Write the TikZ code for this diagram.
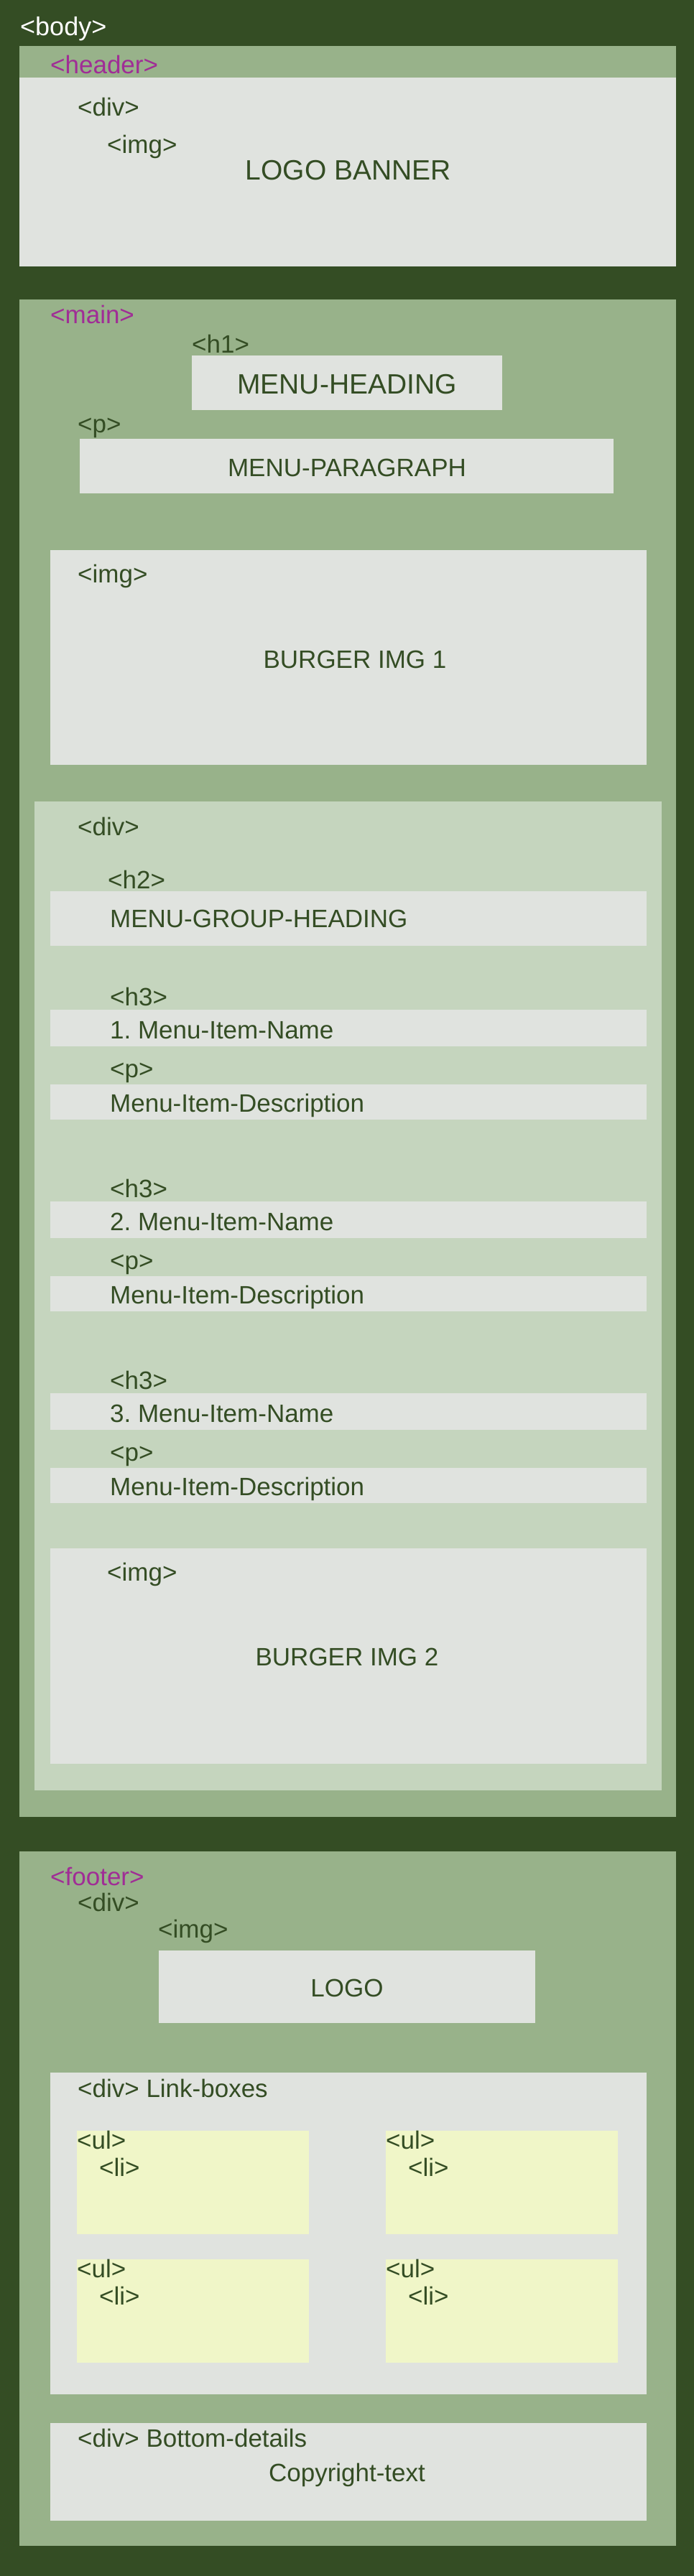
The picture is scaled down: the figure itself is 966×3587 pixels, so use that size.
\documentclass[tikz,border=0pt]{standalone}
\usepackage{fontspec}
\setmainfont{Liberation Sans}
\usepackage{xcolor}
\usepackage{tikz}
\usetikzlibrary{positioning}

\definecolor{bodygreen}{HTML}{344D24}
\definecolor{secgreen}{HTML}{98B28A}
\definecolor{divgreen}{HTML}{C5D5BE}
\definecolor{boxgrey}{HTML}{E0E3DF}
\definecolor{tagpink}{HTML}{A02D96}
\definecolor{ulyellow}{HTML}{F0F6C8}

\begin{document}
\begin{tikzpicture}[
    x=1pt, y=-1pt,
    wh/.style 2 args={minimum width=#1pt, minimum height=#2pt},
    block/.style={anchor=north west, inner sep=0pt, outer sep=0pt},
    section/.style={block, fill=secgreen},
    greybox/.style={block, fill=boxgrey},
    tag/.style={anchor=base west, inner sep=0pt, text=bodygreen, font=\fontsize{35}{42}\selectfont},
    sectag/.style={tag, text=tagpink},
    caption/.style={anchor=base, inner sep=0pt, text=bodygreen, font=\fontsize{35}{42}\selectfont},
    bigcaption/.style={caption, font=\fontsize{39}{46}\selectfont}
]
    % Page
    \fill[bodygreen] (0,0) rectangle (966,3587);
    \node[tag, text=white, font=\fontsize{36}{42}\selectfont] (bodytag) at (28,49) {<body>};

    % Header
    \node[section, wh={914}{307}] (header) at (27,64) {};
    \node[greybox, wh={914}{263}] (headerdiv) at (27,108) {};
    \node[sectag] (headertag) at (70,102) {<header>};
    \node[tag] (headerdivtag) at (108,161) {<div>};
    \node[tag] (headerimgtag) at (149,213) {<img>};
    \node[bigcaption] (banner) at (485,250) {LOGO BANNER};

    % Main
    \node[section, wh={914}{2113}] (main) at (27,417) {};
    \node[sectag] (maintag) at (70,450) {<main>};
    \node[tag] (h1tag) at (267,491) {<h1>};
    \node[greybox, wh={432}{76}] (h1box) at (267,495) {};
    \node[bigcaption] (heading) at (483,548) {MENU-HEADING};
    \node[tag] (mainptag) at (108,602) {<p>};
    \node[greybox, wh={743}{76}] (pbox) at (111,611) {};
    \node[caption] (paragraph) at (483,663) {MENU-PARAGRAPH};
    \node[greybox, wh={830}{299}] (img1) at (70,766) {};
    \node[tag] (img1tag) at (108,811) {<img>};
    \node[caption] (burger1) at (494,930) {BURGER IMG 1};

    % Menu group
    \node[block, fill=divgreen, wh={873}{1377}] (group) at (48,1116) {};
    \node[tag] (grouptag) at (108,1163) {<div>};
    \node[tag] (h2tag) at (150,1237) {<h2>};
    \node[greybox, wh={830}{76}] (h2box) at (70,1241) {};
    \node[tag] (groupheading) at (153,1291) {MENU-GROUP-HEADING};
    \foreach \k in {1,2,3} {
        \pgfmathsetmacro{\dy}{267*(\k-1)}
        \node[tag] (h3tag\k) at (153,1400+\dy) {<h3>};
        \node[greybox, wh={830}{51}] (namebox\k) at (70,1406+\dy) {};
        \node[tag] (name\k) at (153,1446+\dy) {\k.\ Menu-Item-Name};
        \node[tag] (ptag\k) at (153,1500+\dy) {<p>};
        \node[greybox, wh={830}{49}] (descbox\k) at (70,1510+\dy) {};
        \node[tag] (desc\k) at (153,1548+\dy) {Menu-Item-Description};
    }
    \node[greybox, wh={830}{300}] (img2) at (70,2156) {};
    \node[tag] (img2tag) at (149,2201) {<img>};
    \node[caption] (burger2) at (483,2319) {BURGER IMG 2};

    % Footer
    \node[section, wh={914}{967}] (footer) at (27,2578) {};
    \node[sectag] (footertag) at (70,2625) {<footer>};
    \node[tag] (footerdivtag) at (108,2661) {<div>};
    \node[tag] (logotag) at (220,2698) {<img>};
    \node[greybox, wh={524}{101}] (logobox) at (221,2716) {};
    \node[caption] (logo) at (483,2780) {LOGO};
    \node[greybox, wh={830}{448}] (links) at (70,2886) {};
    \node[tag] (linkstag) at (108,2920) {<div> Link-boxes};
    \foreach \c/\x in {1/107, 2/537} {
        \foreach \r/\y in {1/2967, 2/3146} {
            \node[block, fill=ulyellow, wh={323}{144}] (ul\c\r) at (\x,\y) {};
            \node[tag] (ultag\c\r) at (\x,\y+25) {<ul>};
            \node[tag] (litag\c\r) at (\x+31,\y+63) {<li>};
        }
    }
    \node[greybox, wh={830}{136}] (bottom) at (70,3374) {};
    \node[tag] (bottomtag) at (108,3407) {<div> Bottom-details};
    \node[caption] (copyright) at (483,3455) {Copyright-text};
\end{tikzpicture}
\end{document}
